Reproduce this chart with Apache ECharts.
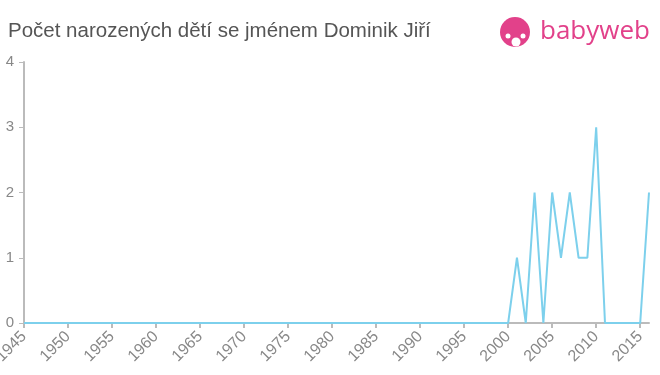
<!DOCTYPE html>
<html><head><meta charset="utf-8">
<script src="https://cdn.jsdelivr.net/npm/echarts@6/dist/echarts.min.js"></script>
<style>html,body{margin:0;padding:0;background:#fff}#c{width:660px;height:375px}</style>
</head><body><div id="c"></div>
<script>
const titleText = "Počet narozených dětí se jménem Dominik Jiří";
const years = [];
for (let y = 1945; y <= 2016; y++) years.push(y);
const valuesFrom2000 = [0, 1, 0, 2, 0, 2, 1, 2, 1, 1, 3, 0, 0, 0, 0, 0, 2];
const valuesBefore2000 = new Array(55).fill(0);
const counts = valuesBefore2000.concat(valuesFrom2000);
const data = years.map((y, i) => [y, counts[i]]);

const chart = echarts.init(document.getElementById('c'));
chart.setOption({
  animation: false,
  grid: {left: 24, right: 11, top: 62, bottom: 52, containLabel: false, outerBoundsMode: 'none'},
  title: {text: titleText, left: 3, top: 16, textStyle: {fontFamily: 'Arial, Liberation Sans, sans-serif', fontSize: 20.5, fontWeight: 'normal', color: '#555'}},
  xAxis: {
    type: 'value', min: 1945, max: 2016, interval: 5,
    axisLine: {lineStyle: {color: '#bbb', width: 2}},
    axisTick: {show: true, length: 5, lineStyle: {color: '#bbb', width: 2}},
    splitLine: {show: false},
    axisLabel: {rotate: 45, color: '#888', fontSize: 16, fontFamily: 'Arial, Liberation Sans, sans-serif', margin: 11, showMaxLabel: false, formatter: v => String(v)}
  },
  yAxis: {
    type: 'value', min: 0, max: 4, interval: 1,
    axisLine: {show: true, lineStyle: {color: '#bbb', width: 2}},
    axisTick: {show: true, length: 5, lineStyle: {color: '#bbb', width: 1}},
    splitLine: {show: false},
    axisLabel: {color: '#888', fontSize: 15, fontFamily: 'Arial, Liberation Sans, sans-serif', margin: 10}
  },
  series: [{
    type: 'line', data: data, symbol: 'none',
    lineStyle: {color: '#7dd0ec', width: 2}
  }],
  graphic: [
    {type: 'circle', shape: {cx: 515, cy: 32, r: 15}, style: {fill: '#e2418a'}},
    {type: 'circle', shape: {cx: 516, cy: 42, r: 4.5}, style: {fill: '#fff'}},
    {type: 'circle', shape: {cx: 508, cy: 36, r: 2.5}, style: {fill: '#fff'}},
    {type: 'circle', shape: {cx: 523, cy: 36, r: 2.5}, style: {fill: '#fff'}},
    {type: 'text', left: 540, top: 19, style: {text: 'babyweb', fill: '#e2418a', font: '26px "Open Sans", sans-serif'}}
  ]
});
</script></body></html>
